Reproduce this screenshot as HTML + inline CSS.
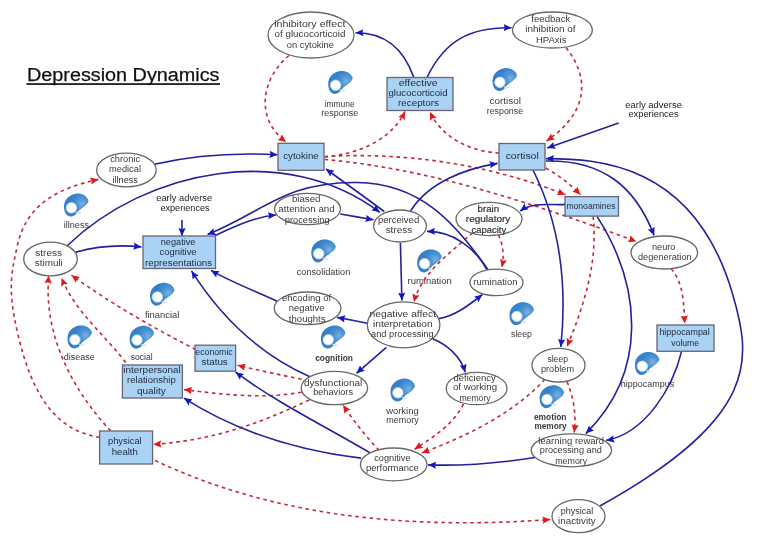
<!DOCTYPE html><html><head><meta charset="utf-8"><style>html,body{margin:0;padding:0;background:#fff;overflow:hidden;}svg{display:block;will-change:transform;}text{font-family:"Liberation Sans",sans-serif;}</style></head><body>
<svg width="773" height="553" viewBox="0 0 773 553">
<defs><marker id="ab" viewBox="0 0 10 10" refX="10" refY="5" markerWidth="8" markerHeight="8" markerUnits="userSpaceOnUse" orient="auto"><path d="M0,0.5 L10,5 L0,9.5 L1.5,5 Z" fill="#1515c8"/></marker><marker id="ar" viewBox="0 0 10 10" refX="10" refY="5" markerWidth="8" markerHeight="8" markerUnits="userSpaceOnUse" orient="auto"><path d="M0,0.5 L10,5 L0,9.5 L1.5,5 Z" fill="#e01818"/></marker><radialGradient id="ig" gradientUnits="userSpaceOnUse" cx="18" cy="10" r="11"><stop offset="0" stop-color="#79b1e4"/><stop offset="0.45" stop-color="#4f95d4"/><stop offset="1" stop-color="#3580c8"/></radialGradient></defs>
<rect width="773" height="553" fill="#fff"/>
<g class="t"><text x="27" y="80.7" font-size="18" fill="#111" stroke="#111" stroke-width="0.25" textLength="192.5" lengthAdjust="spacingAndGlyphs">Depression Dynamics</text></g>
<rect x="26.5" y="83.2" width="193.5" height="1.7" fill="#111"/>
<g transform="translate(328.2,71)"><path d="M0,13 C0,6 5,1.2 11.9,0.1 C17.5,-0.5 23,2 24.4,6.8 C24.8,9.5 21,12.5 14.8,16.8 C12.5,20 10.5,22.6 7,22.9 C2.5,23.2 0,18.5 0,13 Z" fill="url(#ig)"/><circle cx="7.4" cy="14.2" r="5.2" fill="#fff" stroke="#c4dcf0" stroke-width="0.9"/><path d="M11.8,18.6 C13.3,19.8 14.8,20.1 16.8,19.1" stroke="#d2e5f5" stroke-width="1.5" fill="none"/></g>
<g transform="translate(492.5,68.1)"><path d="M0,13 C0,6 5,1.2 11.9,0.1 C17.5,-0.5 23,2 24.4,6.8 C24.8,9.5 21,12.5 14.8,16.8 C12.5,20 10.5,22.6 7,22.9 C2.5,23.2 0,18.5 0,13 Z" fill="url(#ig)"/><circle cx="7.4" cy="14.2" r="5.2" fill="#fff" stroke="#c4dcf0" stroke-width="0.9"/><path d="M11.8,18.6 C13.3,19.8 14.8,20.1 16.8,19.1" stroke="#d2e5f5" stroke-width="1.5" fill="none"/></g>
<g transform="translate(64,193.6)"><path d="M0,13 C0,6 5,1.2 11.9,0.1 C17.5,-0.5 23,2 24.4,6.8 C24.8,9.5 21,12.5 14.8,16.8 C12.5,20 10.5,22.6 7,22.9 C2.5,23.2 0,18.5 0,13 Z" fill="url(#ig)"/><circle cx="7.4" cy="14.2" r="5.2" fill="#fff" stroke="#c4dcf0" stroke-width="0.9"/><path d="M11.8,18.6 C13.3,19.8 14.8,20.1 16.8,19.1" stroke="#d2e5f5" stroke-width="1.5" fill="none"/></g>
<g transform="translate(311.3,239.5)"><path d="M0,13 C0,6 5,1.2 11.9,0.1 C17.5,-0.5 23,2 24.4,6.8 C24.8,9.5 21,12.5 14.8,16.8 C12.5,20 10.5,22.6 7,22.9 C2.5,23.2 0,18.5 0,13 Z" fill="url(#ig)"/><circle cx="7.4" cy="14.2" r="5.2" fill="#fff" stroke="#c4dcf0" stroke-width="0.9"/><path d="M11.8,18.6 C13.3,19.8 14.8,20.1 16.8,19.1" stroke="#d2e5f5" stroke-width="1.5" fill="none"/></g>
<g transform="translate(417.2,249.5)"><path d="M0,13 C0,6 5,1.2 11.9,0.1 C17.5,-0.5 23,2 24.4,6.8 C24.8,9.5 21,12.5 14.8,16.8 C12.5,20 10.5,22.6 7,22.9 C2.5,23.2 0,18.5 0,13 Z" fill="url(#ig)"/><circle cx="7.4" cy="14.2" r="5.2" fill="#fff" stroke="#c4dcf0" stroke-width="0.9"/><path d="M11.8,18.6 C13.3,19.8 14.8,20.1 16.8,19.1" stroke="#d2e5f5" stroke-width="1.5" fill="none"/></g>
<g transform="translate(150,282.8)"><path d="M0,13 C0,6 5,1.2 11.9,0.1 C17.5,-0.5 23,2 24.4,6.8 C24.8,9.5 21,12.5 14.8,16.8 C12.5,20 10.5,22.6 7,22.9 C2.5,23.2 0,18.5 0,13 Z" fill="url(#ig)"/><circle cx="7.4" cy="14.2" r="5.2" fill="#fff" stroke="#c4dcf0" stroke-width="0.9"/><path d="M11.8,18.6 C13.3,19.8 14.8,20.1 16.8,19.1" stroke="#d2e5f5" stroke-width="1.5" fill="none"/></g>
<g transform="translate(67.5,325.5)"><path d="M0,13 C0,6 5,1.2 11.9,0.1 C17.5,-0.5 23,2 24.4,6.8 C24.8,9.5 21,12.5 14.8,16.8 C12.5,20 10.5,22.6 7,22.9 C2.5,23.2 0,18.5 0,13 Z" fill="url(#ig)"/><circle cx="7.4" cy="14.2" r="5.2" fill="#fff" stroke="#c4dcf0" stroke-width="0.9"/><path d="M11.8,18.6 C13.3,19.8 14.8,20.1 16.8,19.1" stroke="#d2e5f5" stroke-width="1.5" fill="none"/></g>
<g transform="translate(129.6,325.8)"><path d="M0,13 C0,6 5,1.2 11.9,0.1 C17.5,-0.5 23,2 24.4,6.8 C24.8,9.5 21,12.5 14.8,16.8 C12.5,20 10.5,22.6 7,22.9 C2.5,23.2 0,18.5 0,13 Z" fill="url(#ig)"/><circle cx="7.4" cy="14.2" r="5.2" fill="#fff" stroke="#c4dcf0" stroke-width="0.9"/><path d="M11.8,18.6 C13.3,19.8 14.8,20.1 16.8,19.1" stroke="#d2e5f5" stroke-width="1.5" fill="none"/></g>
<g transform="translate(320.9,325.6)"><path d="M0,13 C0,6 5,1.2 11.9,0.1 C17.5,-0.5 23,2 24.4,6.8 C24.8,9.5 21,12.5 14.8,16.8 C12.5,20 10.5,22.6 7,22.9 C2.5,23.2 0,18.5 0,13 Z" fill="url(#ig)"/><circle cx="7.4" cy="14.2" r="5.2" fill="#fff" stroke="#c4dcf0" stroke-width="0.9"/><path d="M11.8,18.6 C13.3,19.8 14.8,20.1 16.8,19.1" stroke="#d2e5f5" stroke-width="1.5" fill="none"/></g>
<g transform="translate(390.5,378.6)"><path d="M0,13 C0,6 5,1.2 11.9,0.1 C17.5,-0.5 23,2 24.4,6.8 C24.8,9.5 21,12.5 14.8,16.8 C12.5,20 10.5,22.6 7,22.9 C2.5,23.2 0,18.5 0,13 Z" fill="url(#ig)"/><circle cx="7.4" cy="14.2" r="5.2" fill="#fff" stroke="#c4dcf0" stroke-width="0.9"/><path d="M11.8,18.6 C13.3,19.8 14.8,20.1 16.8,19.1" stroke="#d2e5f5" stroke-width="1.5" fill="none"/></g>
<g transform="translate(509.5,302.2)"><path d="M0,13 C0,6 5,1.2 11.9,0.1 C17.5,-0.5 23,2 24.4,6.8 C24.8,9.5 21,12.5 14.8,16.8 C12.5,20 10.5,22.6 7,22.9 C2.5,23.2 0,18.5 0,13 Z" fill="url(#ig)"/><circle cx="7.4" cy="14.2" r="5.2" fill="#fff" stroke="#c4dcf0" stroke-width="0.9"/><path d="M11.8,18.6 C13.3,19.8 14.8,20.1 16.8,19.1" stroke="#d2e5f5" stroke-width="1.5" fill="none"/></g>
<g transform="translate(634.9,352)"><path d="M0,13 C0,6 5,1.2 11.9,0.1 C17.5,-0.5 23,2 24.4,6.8 C24.8,9.5 21,12.5 14.8,16.8 C12.5,20 10.5,22.6 7,22.9 C2.5,23.2 0,18.5 0,13 Z" fill="url(#ig)"/><circle cx="7.4" cy="14.2" r="5.2" fill="#fff" stroke="#c4dcf0" stroke-width="0.9"/><path d="M11.8,18.6 C13.3,19.8 14.8,20.1 16.8,19.1" stroke="#d2e5f5" stroke-width="1.5" fill="none"/></g>
<g transform="translate(539.6,385.3)"><path d="M0,13 C0,6 5,1.2 11.9,0.1 C17.5,-0.5 23,2 24.4,6.8 C24.8,9.5 21,12.5 14.8,16.8 C12.5,20 10.5,22.6 7,22.9 C2.5,23.2 0,18.5 0,13 Z" fill="url(#ig)"/><circle cx="7.4" cy="14.2" r="5.2" fill="#fff" stroke="#c4dcf0" stroke-width="0.9"/><path d="M11.8,18.6 C13.3,19.8 14.8,20.1 16.8,19.1" stroke="#d2e5f5" stroke-width="1.5" fill="none"/></g>
<g class="t">
<text x="339.7" y="106.7" text-anchor="middle" font-size="9.7" fill="#3a3a3a" textLength="30.1" lengthAdjust="spacingAndGlyphs">immune</text>
<text x="339.7" y="116.4" text-anchor="middle" font-size="9.7" fill="#3a3a3a" textLength="37.0" lengthAdjust="spacingAndGlyphs">response</text>
<text x="505.2" y="104" text-anchor="middle" font-size="9.7" fill="#3a3a3a" textLength="31.5" lengthAdjust="spacingAndGlyphs">cortisol</text>
<text x="504.9" y="113.7" text-anchor="middle" font-size="9.7" fill="#3a3a3a" textLength="36.3" lengthAdjust="spacingAndGlyphs">response</text>
<text x="76.4" y="228.4" text-anchor="middle" font-size="9.7" fill="#3a3a3a" textLength="25.4" lengthAdjust="spacingAndGlyphs">illness</text>
<text x="323.5" y="274.8" text-anchor="middle" font-size="9.7" fill="#3a3a3a" textLength="53.6" lengthAdjust="spacingAndGlyphs">consolidation</text>
<text x="429.6" y="284.3" text-anchor="middle" font-size="9.7" fill="#3a3a3a" textLength="44.1" lengthAdjust="spacingAndGlyphs">rumination</text>
<text x="162.1" y="317.7" text-anchor="middle" font-size="9.7" fill="#3a3a3a" textLength="34.4" lengthAdjust="spacingAndGlyphs">financial</text>
<text x="79.3" y="360.4" text-anchor="middle" font-size="9.7" fill="#3a3a3a" textLength="30.9" lengthAdjust="spacingAndGlyphs">disease</text>
<text x="141.7" y="360.4" text-anchor="middle" font-size="9.7" fill="#3a3a3a" textLength="22.1" lengthAdjust="spacingAndGlyphs">social</text>
<text x="334.1" y="360.8" text-anchor="middle" font-size="9.7" font-weight="bold" fill="#3a3a3a" textLength="37.8" lengthAdjust="spacingAndGlyphs">cognition</text>
<text x="402.4" y="414.4" text-anchor="middle" font-size="9.7" fill="#3a3a3a" textLength="32.5" lengthAdjust="spacingAndGlyphs">working</text>
<text x="402.4" y="423.4" text-anchor="middle" font-size="9.7" fill="#3a3a3a" textLength="32.5" lengthAdjust="spacingAndGlyphs">memory</text>
<text x="521.5" y="337.3" text-anchor="middle" font-size="9.7" fill="#3a3a3a" textLength="21.0" lengthAdjust="spacingAndGlyphs">sleep</text>
<text x="647.5" y="386.7" text-anchor="middle" font-size="9.7" fill="#3a3a3a" textLength="53.3" lengthAdjust="spacingAndGlyphs">hippocampus</text>
<text x="550.2" y="420" text-anchor="middle" font-size="9.7" font-weight="bold" fill="#3a3a3a" textLength="32.6" lengthAdjust="spacingAndGlyphs">emotion</text>
<text x="550.5" y="429.2" text-anchor="middle" font-size="9.7" font-weight="bold" fill="#3a3a3a" textLength="32.1" lengthAdjust="spacingAndGlyphs">memory</text>
<text x="184.2" y="201.4" text-anchor="middle" font-size="9.7" fill="#222" textLength="55.9" lengthAdjust="spacingAndGlyphs">early adverse</text>
<text x="185.0" y="210.8" text-anchor="middle" font-size="9.7" fill="#222" textLength="49.2" lengthAdjust="spacingAndGlyphs">experiences</text>
<text x="653.6" y="108.2" text-anchor="middle" font-size="9.7" fill="#222" textLength="56.6" lengthAdjust="spacingAndGlyphs">early adverse</text>
<text x="653.5" y="117.3" text-anchor="middle" font-size="9.7" fill="#222" textLength="50.2" lengthAdjust="spacingAndGlyphs">experiences</text>
</g>
<path d="M289.0,55.5 C261.4,78.3 254.5,118.7 286.1,141.9" fill="none" stroke="#c42a3a" stroke-width="1.6" stroke-dasharray="3.6,3.6" marker-end="url(#ar)"/>
<path d="M324.5,157.0 C355.5,154.4 390.5,141.5 405.0,111.5" fill="none" stroke="#c42a3a" stroke-width="1.6" stroke-dasharray="3.6,3.6" marker-end="url(#ar)"/>
<path d="M499.0,153.0 C471.2,151.5 442.4,138.6 430.0,112.0" fill="none" stroke="#c42a3a" stroke-width="1.6" stroke-dasharray="3.6,3.6" marker-end="url(#ar)"/>
<path d="M566.0,47.5 C594.4,83.6 582.2,117.0 546.5,141.0" fill="none" stroke="#c42a3a" stroke-width="1.6" stroke-dasharray="3.6,3.6" marker-end="url(#ar)"/>
<path d="M324.5,156.5 C406.7,152.0 488.9,164.3 565.4,194.7" fill="none" stroke="#c42a3a" stroke-width="1.6" stroke-dasharray="3.6,3.6" marker-end="url(#ar)"/>
<path d="M324.5,159.5 C432.5,168.9 535.3,204.4 636.4,241.4" fill="none" stroke="#c42a3a" stroke-width="1.6" stroke-dasharray="3.6,3.6" marker-end="url(#ar)"/>
<path d="M545.8,168.0 C558.6,175.3 570.1,184.2 580.5,194.7" fill="none" stroke="#c42a3a" stroke-width="1.6" stroke-dasharray="3.6,3.6" marker-end="url(#ar)"/>
<path d="M671.1,268.6 C684.4,284.1 683.5,304.8 684.8,323.5" fill="none" stroke="#c42a3a" stroke-width="1.6" stroke-dasharray="3.6,3.6" marker-end="url(#ar)"/>
<path d="M498.5,234.8 C503.2,245.3 504.3,256.1 501.8,267.3" fill="none" stroke="#c42a3a" stroke-width="1.6" stroke-dasharray="3.6,3.6" marker-end="url(#ar)"/>
<path d="M472.5,232.6 C451.0,253.1 422.2,271.2 413.9,302.0" fill="none" stroke="#c42a3a" stroke-width="1.6" stroke-dasharray="3.6,3.6" marker-end="url(#ar)"/>
<path d="M593.1,216.4 C598.1,261.8 584.2,305.3 567.0,346.5" fill="none" stroke="#c42a3a" stroke-width="1.6" stroke-dasharray="3.6,3.6" marker-end="url(#ar)"/>
<path d="M567.0,381.6 C573.9,397.8 576.3,414.8 574.2,432.5" fill="none" stroke="#c42a3a" stroke-width="1.6" stroke-dasharray="3.6,3.6" marker-end="url(#ar)"/>
<path d="M545.0,379.3 C511.7,414.8 466.6,436.0 421.8,453.0" fill="none" stroke="#c42a3a" stroke-width="1.6" stroke-dasharray="3.6,3.6" marker-end="url(#ar)"/>
<path d="M463.4,404.1 C453.3,424.7 433.0,437.2 414.5,449.3" fill="none" stroke="#c42a3a" stroke-width="1.6" stroke-dasharray="3.6,3.6" marker-end="url(#ar)"/>
<path d="M379.2,450.4 C365.9,436.3 353.8,421.2 343.0,405.1" fill="none" stroke="#c42a3a" stroke-width="1.6" stroke-dasharray="3.6,3.6" marker-end="url(#ar)"/>
<path d="M301.6,379.2 C280.1,375.0 258.8,370.3 237.5,365.3" fill="none" stroke="#c42a3a" stroke-width="1.6" stroke-dasharray="3.6,3.6" marker-end="url(#ar)"/>
<path d="M301.6,392.2 C262.5,399.3 222.9,394.5 183.9,389.6" fill="none" stroke="#c42a3a" stroke-width="1.6" stroke-dasharray="3.6,3.6" marker-end="url(#ar)"/>
<path d="M309.4,399.9 C256.8,424.9 211.8,440.3 153.3,444.4" fill="none" stroke="#c42a3a" stroke-width="1.6" stroke-dasharray="3.6,3.6" marker-end="url(#ar)"/>
<path d="M155.0,460.4 C278.0,518.8 416.7,529.4 550.5,519.5" fill="none" stroke="#c42a3a" stroke-width="1.6" stroke-dasharray="3.6,3.6" marker-end="url(#ar)"/>
<path d="M99.8,437.4 C53.7,430.4 31.2,391.9 17.7,333.5 C7.0,287.4 11.8,271.6 17.3,245.9 C25.8,205.2 56.9,188.4 98.4,179.4" fill="none" stroke="#c42a3a" stroke-width="1.6" stroke-dasharray="3.6,3.6" marker-end="url(#ar)"/>
<path d="M110.7,430.9 C71.7,389.3 43.2,333.8 48.8,275.5" fill="none" stroke="#c42a3a" stroke-width="1.6" stroke-dasharray="3.6,3.6" marker-end="url(#ar)"/>
<path d="M125.7,362.5 C104.4,334.4 74.9,311.7 61.6,278.0" fill="none" stroke="#c42a3a" stroke-width="1.6" stroke-dasharray="3.6,3.6" marker-end="url(#ar)"/>
<path d="M195.9,349.7 C153.1,327.7 110.5,303.3 71.5,275.2" fill="none" stroke="#c42a3a" stroke-width="1.6" stroke-dasharray="3.6,3.6" marker-end="url(#ar)"/>
<path d="M413.8,77.5 C404.1,49.8 386.2,32.6 355.5,32.8" fill="none" stroke="#23219e" stroke-width="1.6" marker-end="url(#ab)"/>
<path d="M427.0,77.5 C444.9,40.1 470.4,27.1 511.6,27.8" fill="none" stroke="#23219e" stroke-width="1.6" marker-end="url(#ab)"/>
<path d="M618.7,123.1 C594.9,131.4 571.0,139.7 547.2,148.0" fill="none" stroke="#23219e" stroke-width="1.6" marker-end="url(#ab)"/>
<path d="M154.4,164.2 C194.6,155.1 236.4,152.5 277.5,154.8" fill="none" stroke="#23219e" stroke-width="1.6" marker-end="url(#ab)"/>
<path d="M67.0,246.0 C147.0,168.5 286.9,141.9 379.8,212.3" fill="none" stroke="#23219e" stroke-width="1.6" marker-end="url(#ab)"/>
<path d="M488.2,270.0 C454.9,221.9 420.0,183.3 356.9,182.5 C285.0,181.6 263.6,211.9 207.5,234.6" fill="none" stroke="#23219e" stroke-width="1.6" marker-end="url(#ab)"/>
<path d="M215.0,235.5 C234.4,226.7 254.4,216.9 276.0,215.0" fill="none" stroke="#23219e" stroke-width="1.6" marker-end="url(#ab)"/>
<path d="M340.2,214.0 C351.3,215.9 362.4,217.9 373.5,219.8" fill="none" stroke="#23219e" stroke-width="1.6" marker-end="url(#ab)"/>
<path d="M384.3,211.5 C364.9,197.3 345.4,183.2 326.0,169.0" fill="none" stroke="#23219e" stroke-width="1.6" marker-end="url(#ab)"/>
<path d="M410.7,210.8 C428.9,182.0 465.5,168.7 497.6,163.4" fill="none" stroke="#23219e" stroke-width="1.6" marker-end="url(#ab)"/>
<path d="M400.4,243.0 C400.9,262.2 401.4,281.3 401.9,300.5" fill="none" stroke="#23219e" stroke-width="1.6" marker-end="url(#ab)"/>
<path d="M487.0,270.0 C475.7,248.0 452.2,231.0 427.0,231.4" fill="none" stroke="#23219e" stroke-width="1.6" marker-end="url(#ab)"/>
<path d="M438.1,318.9 C455.3,315.9 469.2,305.0 482.4,294.5" fill="none" stroke="#23219e" stroke-width="1.6" marker-end="url(#ab)"/>
<path d="M367.3,323.2 C357.3,321.3 347.2,319.3 337.2,317.4" fill="none" stroke="#23219e" stroke-width="1.6" marker-end="url(#ab)"/>
<path d="M386.3,347.3 C376.4,356.0 366.4,364.6 356.5,373.3" fill="none" stroke="#23219e" stroke-width="1.6" marker-end="url(#ab)"/>
<path d="M432.7,338.8 C447.3,344.9 460.8,356.4 465.2,372.3" fill="none" stroke="#23219e" stroke-width="1.6" marker-end="url(#ab)"/>
<path d="M277.2,301.2 C255.1,291.0 232.1,282.5 211.0,270.4" fill="none" stroke="#23219e" stroke-width="1.6" marker-end="url(#ab)"/>
<path d="M310.9,377.2 C260.7,355.1 220.7,317.0 191.5,270.9" fill="none" stroke="#23219e" stroke-width="1.6" marker-end="url(#ab)"/>
<path d="M75.5,252.2 C97.2,246.2 119.2,244.5 141.5,247.0" fill="none" stroke="#23219e" stroke-width="1.6" marker-end="url(#ab)"/>
<path d="M182.0,220.0 C182.0,225.3 182.0,230.7 182.0,236.0" fill="none" stroke="#23219e" stroke-width="1.6" marker-end="url(#ab)"/>
<path d="M546.0,161.0 C601.5,159.8 635.0,185.4 654.1,235.5" fill="none" stroke="#23219e" stroke-width="1.6" marker-end="url(#ab)"/>
<path d="M599.8,506.0 C760.4,416.9 751.8,358.7 732.3,292.9 C693.4,161.8 596.6,158.9 546.0,158.6" fill="none" stroke="#23219e" stroke-width="1.6" marker-end="url(#ab)"/>
<path d="M533.0,170.0 C560.3,224.9 567.2,286.4 560.8,347.0" fill="none" stroke="#23219e" stroke-width="1.6" marker-end="url(#ab)"/>
<path d="M597.0,216.4 C641.6,286.0 648.5,371.5 585.8,433.6" fill="none" stroke="#23219e" stroke-width="1.6" marker-end="url(#ab)"/>
<path d="M565.2,204.4 C550.4,205.6 533.2,201.4 520.2,211.0" fill="none" stroke="#23219e" stroke-width="1.6" marker-end="url(#ab)"/>
<path d="M681.5,351.6 C672.9,387.4 645.6,432.9 606.3,440.4" fill="none" stroke="#23219e" stroke-width="1.6" marker-end="url(#ab)"/>
<path d="M535.0,457.5 C499.7,463.0 463.8,466.1 428.1,464.9" fill="none" stroke="#23219e" stroke-width="1.6" marker-end="url(#ab)"/>
<path d="M370.2,453.0 C325.4,426.5 277.5,403.2 235.6,372.2" fill="none" stroke="#23219e" stroke-width="1.6" marker-end="url(#ab)"/>
<path d="M361.1,458.1 C298.3,450.6 237.4,432.2 183.9,398.1" fill="none" stroke="#23219e" stroke-width="1.6" marker-end="url(#ab)"/>
<ellipse cx="311" cy="35" rx="43" ry="23" fill="#fff" stroke="#686868" stroke-width="1.3"/>
<ellipse cx="552.4" cy="30" rx="40" ry="18" fill="#fff" stroke="#686868" stroke-width="1.3"/>
<ellipse cx="126.4" cy="170" rx="29.8" ry="16.8" fill="#fff" stroke="#686868" stroke-width="1.3"/>
<ellipse cx="50.5" cy="259" rx="26.8" ry="16.8" fill="#fff" stroke="#686868" stroke-width="1.3"/>
<ellipse cx="307.5" cy="209" rx="33" ry="15.7" fill="#fff" stroke="#686868" stroke-width="1.3"/>
<ellipse cx="400" cy="226" rx="26.4" ry="16" fill="#fff" stroke="#686868" stroke-width="1.3"/>
<ellipse cx="489" cy="219" rx="33" ry="16.6" fill="#fff" stroke="#686868" stroke-width="1.3"/>
<ellipse cx="496.5" cy="282.4" rx="26.5" ry="13.3" fill="#fff" stroke="#686868" stroke-width="1.3"/>
<ellipse cx="664.3" cy="252.5" rx="33.3" ry="16.5" fill="#fff" stroke="#686868" stroke-width="1.3"/>
<ellipse cx="307.6" cy="308.3" rx="33.4" ry="16.3" fill="#fff" stroke="#686868" stroke-width="1.3"/>
<ellipse cx="403.6" cy="324.8" rx="36.3" ry="23" fill="#fff" stroke="#686868" stroke-width="1.3"/>
<ellipse cx="334.4" cy="388" rx="33.2" ry="16.7" fill="#fff" stroke="#686868" stroke-width="1.3"/>
<ellipse cx="476.6" cy="388.5" rx="30.4" ry="16.2" fill="#fff" stroke="#686868" stroke-width="1.3"/>
<ellipse cx="558.5" cy="365.2" rx="26.5" ry="16.8" fill="#fff" stroke="#686868" stroke-width="1.3"/>
<ellipse cx="571.4" cy="450.3" rx="40.2" ry="16.5" fill="#fff" stroke="#686868" stroke-width="1.3"/>
<ellipse cx="393.7" cy="464.4" rx="33.3" ry="16.4" fill="#fff" stroke="#686868" stroke-width="1.3"/>
<ellipse cx="578.5" cy="516.2" rx="26.5" ry="16.5" fill="#fff" stroke="#686868" stroke-width="1.3"/>
<rect x="387" y="77.5" width="66" height="33" fill="#a9d2f5" stroke="#667" stroke-width="1.3"/>
<rect x="278" y="143.3" width="46" height="27" fill="#a9d2f5" stroke="#667" stroke-width="1.3"/>
<rect x="499" y="143.5" width="46" height="26.5" fill="#a9d2f5" stroke="#667" stroke-width="1.3"/>
<rect x="565" y="196.6" width="53.5" height="19.5" fill="#a9d2f5" stroke="#667" stroke-width="1.3"/>
<rect x="143" y="236" width="72.5" height="32.5" fill="#a9d2f5" stroke="#667" stroke-width="1.3"/>
<rect x="195" y="345.2" width="40.6" height="26" fill="#a9d2f5" stroke="#667" stroke-width="1.3"/>
<rect x="122.4" y="365" width="60" height="33" fill="#a9d2f5" stroke="#667" stroke-width="1.3"/>
<rect x="99.6" y="431" width="53" height="33" fill="#a9d2f5" stroke="#667" stroke-width="1.3"/>
<rect x="657" y="325" width="57" height="26.3" fill="#a9d2f5" stroke="#667" stroke-width="1.3"/>
<g class="t">
<text x="309.8" y="27.4" text-anchor="middle" font-size="9.7" fill="#3a3a3a" textLength="71.3" lengthAdjust="spacingAndGlyphs">inhibitory effect</text>
<text x="310.0" y="37.0" text-anchor="middle" font-size="9.7" fill="#3a3a3a" textLength="70.9" lengthAdjust="spacingAndGlyphs">of glucocorticoid</text>
<text x="310.4" y="47.5" text-anchor="middle" font-size="9.7" fill="#3a3a3a" textLength="47.2" lengthAdjust="spacingAndGlyphs">on cytokine</text>
<text x="550.8" y="22.0" text-anchor="middle" font-size="9.7" fill="#3a3a3a" textLength="39.0" lengthAdjust="spacingAndGlyphs">feedback</text>
<text x="550.4" y="31.7" text-anchor="middle" font-size="9.7" fill="#3a3a3a" textLength="50.4" lengthAdjust="spacingAndGlyphs">inhibition of</text>
<text x="551.2" y="42.6" text-anchor="middle" font-size="9.7" fill="#3a3a3a" textLength="30.6" lengthAdjust="spacingAndGlyphs">HPAxis</text>
<text x="125.2" y="161.6" text-anchor="middle" font-size="9.7" fill="#3a3a3a" textLength="30.0" lengthAdjust="spacingAndGlyphs">chronic</text>
<text x="125.0" y="172.0" text-anchor="middle" font-size="9.7" fill="#3a3a3a" textLength="31.9" lengthAdjust="spacingAndGlyphs">medical</text>
<text x="125.2" y="182.8" text-anchor="middle" font-size="9.7" fill="#3a3a3a" textLength="25.5" lengthAdjust="spacingAndGlyphs">illness</text>
<text x="48.7" y="256.3" text-anchor="middle" font-size="9.7" fill="#3a3a3a" textLength="27.0" lengthAdjust="spacingAndGlyphs">stress</text>
<text x="48.8" y="266.0" text-anchor="middle" font-size="9.7" fill="#3a3a3a" textLength="28.0" lengthAdjust="spacingAndGlyphs">stimuli</text>
<text x="306.2" y="202.0" text-anchor="middle" font-size="9.7" fill="#3a3a3a" textLength="28.6" lengthAdjust="spacingAndGlyphs">biased</text>
<text x="306.5" y="212.4" text-anchor="middle" font-size="9.7" fill="#3a3a3a" textLength="56.4" lengthAdjust="spacingAndGlyphs">attention and</text>
<text x="307.2" y="222.8" text-anchor="middle" font-size="9.7" fill="#3a3a3a" textLength="44.8" lengthAdjust="spacingAndGlyphs">processing</text>
<text x="398.6" y="223.2" text-anchor="middle" font-size="9.7" fill="#3a3a3a" textLength="41.2" lengthAdjust="spacingAndGlyphs">perceived</text>
<text x="398.9" y="232.5" text-anchor="middle" font-size="9.7" fill="#3a3a3a" textLength="26.5" lengthAdjust="spacingAndGlyphs">stress</text>
<text stroke="#2a2a2a" stroke-width="0.22" x="488.3" y="212.2" text-anchor="middle" font-size="9.7" fill="#3a3a3a" textLength="21.5" lengthAdjust="spacingAndGlyphs">brain</text>
<text stroke="#2a2a2a" stroke-width="0.22" x="488.1" y="222.3" text-anchor="middle" font-size="9.7" fill="#3a3a3a" textLength="44.5" lengthAdjust="spacingAndGlyphs">regulatory</text>
<text stroke="#2a2a2a" stroke-width="0.22" x="488.8" y="233.1" text-anchor="middle" font-size="9.7" fill="#3a3a3a" textLength="34.7" lengthAdjust="spacingAndGlyphs">capacity</text>
<text x="495.4" y="285.4" text-anchor="middle" font-size="9.7" fill="#3a3a3a" textLength="44.1" lengthAdjust="spacingAndGlyphs">rumination</text>
<text x="663.7" y="250.0" text-anchor="middle" font-size="9.7" fill="#3a3a3a" textLength="23.5" lengthAdjust="spacingAndGlyphs">neuro</text>
<text x="664.8" y="259.7" text-anchor="middle" font-size="9.7" fill="#3a3a3a" textLength="53.6" lengthAdjust="spacingAndGlyphs">degeneration</text>
<text x="306.6" y="300.8" text-anchor="middle" font-size="9.7" fill="#3a3a3a" textLength="49.3" lengthAdjust="spacingAndGlyphs">encoding of</text>
<text x="306.6" y="311.3" text-anchor="middle" font-size="9.7" fill="#3a3a3a" textLength="35.6" lengthAdjust="spacingAndGlyphs">negative</text>
<text x="307.2" y="321.8" text-anchor="middle" font-size="9.7" fill="#3a3a3a" textLength="36.7" lengthAdjust="spacingAndGlyphs">thoughts</text>
<text x="402.8" y="317.1" text-anchor="middle" font-size="9.7" fill="#3a3a3a" textLength="66.5" lengthAdjust="spacingAndGlyphs">negative affect</text>
<text x="402.8" y="327.1" text-anchor="middle" font-size="9.7" fill="#3a3a3a" textLength="59.6" lengthAdjust="spacingAndGlyphs">interpretation</text>
<text x="402.4" y="337.4" text-anchor="middle" font-size="9.7" fill="#3a3a3a" textLength="62.6" lengthAdjust="spacingAndGlyphs">and processing</text>
<text x="333.1" y="385.8" text-anchor="middle" font-size="9.7" fill="#3a3a3a" textLength="58.2" lengthAdjust="spacingAndGlyphs">dysfunctional</text>
<text x="333.1" y="395.0" text-anchor="middle" font-size="9.7" fill="#3a3a3a" textLength="39.9" lengthAdjust="spacingAndGlyphs">behaviors</text>
<text x="474.6" y="380.5" text-anchor="middle" font-size="9.7" fill="#3a3a3a" textLength="42.1" lengthAdjust="spacingAndGlyphs">deficiency</text>
<text x="475.0" y="390.2" text-anchor="middle" font-size="9.7" fill="#3a3a3a" textLength="44.0" lengthAdjust="spacingAndGlyphs">of working</text>
<text x="475.0" y="400.5" text-anchor="middle" font-size="9.7" fill="#3a3a3a" textLength="31.2" lengthAdjust="spacingAndGlyphs">memory</text>
<text x="557.7" y="362.1" text-anchor="middle" font-size="9.7" fill="#3a3a3a" textLength="20.6" lengthAdjust="spacingAndGlyphs">sleep</text>
<text x="557.5" y="372.1" text-anchor="middle" font-size="9.7" fill="#3a3a3a" textLength="33.1" lengthAdjust="spacingAndGlyphs">problem</text>
<text x="571.2" y="443.7" text-anchor="middle" font-size="9.7" fill="#3a3a3a" textLength="65.7" lengthAdjust="spacingAndGlyphs">learning reward</text>
<text x="570.8" y="453.0" text-anchor="middle" font-size="9.7" fill="#3a3a3a" textLength="62.0" lengthAdjust="spacingAndGlyphs">processing and</text>
<text x="571.2" y="463.5" text-anchor="middle" font-size="9.7" fill="#3a3a3a" textLength="32.1" lengthAdjust="spacingAndGlyphs">memory</text>
<text x="392.4" y="461.1" text-anchor="middle" font-size="9.7" fill="#3a3a3a" textLength="36.3" lengthAdjust="spacingAndGlyphs">cognitive</text>
<text x="392.4" y="470.8" text-anchor="middle" font-size="9.7" fill="#3a3a3a" textLength="52.9" lengthAdjust="spacingAndGlyphs">performance</text>
<text x="576.9" y="514.3" text-anchor="middle" font-size="9.7" fill="#3a3a3a" textLength="32.5" lengthAdjust="spacingAndGlyphs">physical</text>
<text x="576.9" y="524.0" text-anchor="middle" font-size="9.7" fill="#3a3a3a" textLength="37.6" lengthAdjust="spacingAndGlyphs">inactivity</text>
<text x="418.2" y="86.3" text-anchor="middle" font-size="9.7" fill="#1e2a3c" textLength="38.8" lengthAdjust="spacingAndGlyphs">effective</text>
<text x="418.0" y="96.0" text-anchor="middle" font-size="9.7" fill="#1e2a3c" textLength="59.1" lengthAdjust="spacingAndGlyphs">glucocorticoid</text>
<text x="418.5" y="106.3" text-anchor="middle" font-size="9.7" fill="#1e2a3c" textLength="40.8" lengthAdjust="spacingAndGlyphs">receptors</text>
<text x="301.0" y="158.9" text-anchor="middle" font-size="9.7" fill="#1e2a3c" textLength="35.5" lengthAdjust="spacingAndGlyphs">cytokine</text>
<text x="522.2" y="159.3" text-anchor="middle" font-size="9.7" fill="#1e2a3c" textLength="33.1" lengthAdjust="spacingAndGlyphs">cortisol</text>
<text x="591.0" y="209.0" text-anchor="middle" font-size="9.7" fill="#1e2a3c" textLength="49.2" lengthAdjust="spacingAndGlyphs">monoamines</text>
<text x="178.1" y="244.8" text-anchor="middle" font-size="9.7" fill="#1e2a3c" textLength="34.7" lengthAdjust="spacingAndGlyphs">negative</text>
<text x="178.1" y="255.4" text-anchor="middle" font-size="9.7" fill="#1e2a3c" textLength="37.0" lengthAdjust="spacingAndGlyphs">cognitive</text>
<text x="178.6" y="265.5" text-anchor="middle" font-size="9.7" fill="#1e2a3c" textLength="67.1" lengthAdjust="spacingAndGlyphs">representations</text>
<text x="214.0" y="355.3" text-anchor="middle" font-size="9.7" fill="#1e2a3c" textLength="37.4" lengthAdjust="spacingAndGlyphs">economic</text>
<text x="214.7" y="364.6" text-anchor="middle" font-size="9.7" fill="#1e2a3c" textLength="26.2" lengthAdjust="spacingAndGlyphs">status</text>
<text x="152.0" y="373.0" text-anchor="middle" font-size="9.7" fill="#1e2a3c" textLength="57.3" lengthAdjust="spacingAndGlyphs">interpersonal</text>
<text x="151.4" y="383.1" text-anchor="middle" font-size="9.7" fill="#1e2a3c" textLength="48.7" lengthAdjust="spacingAndGlyphs">relationship</text>
<text x="151.4" y="393.8" text-anchor="middle" font-size="9.7" fill="#1e2a3c" textLength="28.8" lengthAdjust="spacingAndGlyphs">quality</text>
<text x="124.8" y="444.4" text-anchor="middle" font-size="9.7" fill="#1e2a3c" textLength="33.7" lengthAdjust="spacingAndGlyphs">physical</text>
<text x="124.8" y="455.0" text-anchor="middle" font-size="9.7" fill="#1e2a3c" textLength="26.2" lengthAdjust="spacingAndGlyphs">health</text>
<text x="684.6" y="335.3" text-anchor="middle" font-size="9.7" fill="#1e2a3c" textLength="50.4" lengthAdjust="spacingAndGlyphs">hippocampal</text>
<text x="685.2" y="345.6" text-anchor="middle" font-size="9.7" fill="#1e2a3c" textLength="27.7" lengthAdjust="spacingAndGlyphs">volume</text>
</g>
</svg></body></html>
